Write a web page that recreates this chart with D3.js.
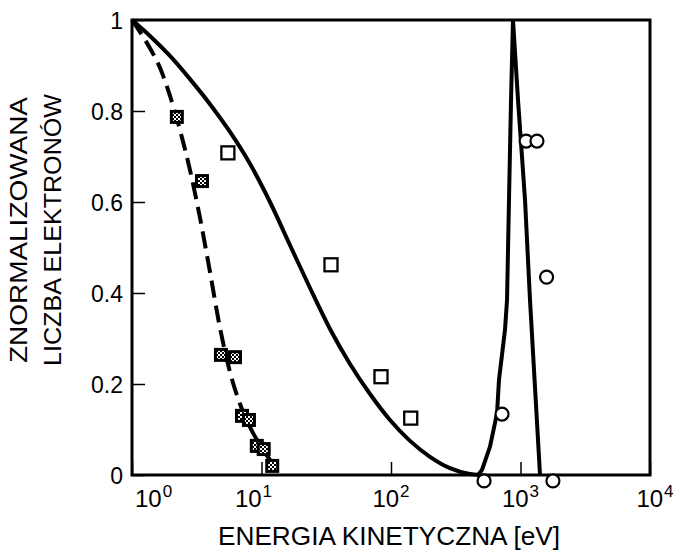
<!DOCTYPE html>
<html>
<head>
<meta charset="utf-8">
<script src="https://cdn.jsdelivr.net/npm/d3@7"></script>
<style>
  html, body { margin: 0; padding: 0; background: #fff; }
  svg { display: block; }
  text { font-family: "Liberation Sans", Arial, sans-serif; fill: #000; }
</style>
</head>
<body>
<script>
// ---- data (energy in eV, normalized electron count) ----
const xTickValues = [1, 10, 100, 1000, 10000];
const xTickExponents = ["0", "1", "2", "3", "4"];
const yTickValues = [0, 0.2, 0.4, 0.6, 0.8, 1];
const yTickLabels = ["0", "0.2", "0.4", "0.6", "0.8", "1"];

const solidCurveE = [1, 1.377, 1.966, 2.805, 4.003, 5.713, 8.15, 11.63, 16.61, 23.69, 33.81, 48.25, 68.84, 98.2, 140.2, 200.1, 285.5, 407.4, 486.8];
const solidCurveY = [1, 0.965, 0.921, 0.870, 0.815, 0.754, 0.684, 0.600, 0.505, 0.411, 0.321, 0.244, 0.178, 0.121, 0.075, 0.040, 0.015, 0.002, 0];

const peakCurveE = [470, 504, 581, 659, 682, 759, 787, 815, 845, 875, 957, 1084, 1184, 1415];
const peakCurveY = [0, 0.011, 0.062, 0.136, 0.209, 0.319, 0.385, 0.604, 0.824, 1, 0.824, 0.604, 0.385, 0];

const dashedCurveE = [1, 1.153, 1.377, 1.645, 1.966, 2.349, 2.805, 3.351, 4.003, 4.782, 5.713, 6.823, 8.151, 9.737, 11.63, 12.94];
const dashedCurveY = [1, 0.974, 0.938, 0.895, 0.833, 0.758, 0.670, 0.565, 0.446, 0.323, 0.226, 0.156, 0.105, 0.066, 0.033, 0.015];

const filledSquareE = [2.22, 3.47, 4.86, 6.24, 7.07, 8.0, 9.2, 10.4, 12.1];
const filledSquareY = [0.787, 0.646, 0.264, 0.259, 0.13, 0.121, 0.064, 0.057, 0.02];

const openSquareE = [5.5, 34.4, 83.7, 142];
const openSquareY = [0.708, 0.462, 0.216, 0.125];

const circleE = [523, 720, 1105, 1340, 1590, 1780];
const circleY = [-0.013, 0.134, 0.734, 0.734, 0.435, -0.013];

const xTitle = "ENERGIA KINETYCZNA [eV]";
const yTitleLines = ["ZNORMALIZOWANA", "LICZBA ELEKTRONÓW"];

// ---- drawing ----
const W = 675, H = 552;
const L = 132, R = 650, T = 20, B = 475;

const svg = d3.select("body").append("svg").attr("width", W).attr("height", H);

const defs = svg.append("defs");
const pat = defs.append("pattern").attr("id", "chk")
  .attr("width", 4).attr("height", 4).attr("patternUnits", "userSpaceOnUse");
pat.append("rect").attr("width", 4).attr("height", 4).attr("fill", "#000");
pat.append("rect").attr("x", 0).attr("y", 0).attr("width", 2).attr("height", 2).attr("fill", "#fff");
pat.append("rect").attr("x", 2).attr("y", 2).attr("width", 2).attr("height", 2).attr("fill", "#fff");

const x = d3.scaleLog().domain([1, 10000]).range([L, R]);
const y = d3.scaleLinear().domain([0, 1]).range([B, T]);

// axes (ticks inward)
const xAxis = d3.axisBottom(x).tickValues(xTickValues).tickSizeInner(-13).tickSizeOuter(0).tickFormat("");
const gx = svg.append("g").attr("transform", `translate(0,${B})`).call(xAxis);
gx.select(".domain").remove();
gx.selectAll(".tick line").attr("stroke", "#000").attr("stroke-width", 1.5);

const yAxis = d3.axisLeft(y).tickValues(yTickValues).tickSizeInner(-13).tickSizeOuter(0).tickPadding(9)
  .tickFormat((d, i) => yTickLabels[i]);
const gy = svg.append("g").attr("transform", `translate(${L},0)`).call(yAxis);
gy.select(".domain").remove();
gy.selectAll(".tick line").attr("stroke", "#000").attr("stroke-width", 1.5);
gy.selectAll(".tick text").attr("font-size", 23).attr("font-family", "Liberation Sans, Arial, sans-serif")
  .attr("fill", "#000").attr("dy", "0.36em");

// x tick labels with superscripts (small nudges as in the original print)
const labelNudge = [3, -8, 0, 0, 5];
xTickValues.forEach((v, i) => {
  const t = svg.append("text")
    .attr("x", x(v) + labelNudge[i])
    .attr("y", 507)
    .attr("text-anchor", i === 0 ? "start" : "middle")
    .attr("font-size", 24);
  t.append("tspan").text("10");
  t.append("tspan").attr("font-size", 17).attr("dy", -10).attr("dx", 1).text(xTickExponents[i]);
});

// frame
svg.append("rect").attr("x", L).attr("y", T).attr("width", R - L).attr("height", B - T)
  .attr("fill", "none").attr("stroke", "#000").attr("stroke-width", 3);

// curves
const zip = (a, b) => a.map((v, i) => [v, b[i]]);
const smooth = d3.line().x(d => x(d[0])).y(d => y(d[1])).curve(d3.curveMonotoneX);
const straight = d3.line().x(d => x(d[0])).y(d => y(d[1])).curve(d3.curveLinear);

svg.append("path").datum(zip(solidCurveE, solidCurveY))
  .attr("d", smooth)
  .attr("fill", "none").attr("stroke", "#000").attr("stroke-width", 4).attr("stroke-linejoin", "round");

svg.append("path").datum(zip(peakCurveE, peakCurveY))
  .attr("d", straight)
  .attr("fill", "none").attr("stroke", "#000").attr("stroke-width", 4).attr("stroke-linejoin", "miter");

svg.append("path").datum(zip(dashedCurveE, dashedCurveY))
  .attr("d", smooth)
  .attr("fill", "none").attr("stroke", "#000").attr("stroke-width", 4)
  .attr("stroke-dasharray", "17,8");

// markers
const fs = 14;
const gFilled = svg.append("g");
zip(filledSquareE, filledSquareY).forEach(d => {
  gFilled.append("rect").attr("x", x(d[0]) - fs / 2).attr("y", y(d[1]) - fs / 2)
    .attr("width", fs).attr("height", fs).attr("fill", "#000");
  gFilled.append("rect").attr("x", x(d[0]) - 4).attr("y", y(d[1]) - 4)
    .attr("width", 8).attr("height", 8).attr("fill", "url(#chk)");
});

const os = 13;
svg.append("g").selectAll("rect").data(zip(openSquareE, openSquareY)).join("rect")
  .attr("x", d => x(d[0]) - os / 2).attr("y", d => y(d[1]) - os / 2)
  .attr("width", os).attr("height", os)
  .attr("fill", "#fff").attr("stroke", "#000").attr("stroke-width", 2.3);

svg.append("g").selectAll("circle").data(zip(circleE, circleY)).join("circle")
  .attr("cx", d => x(d[0])).attr("cy", d => y(d[1])).attr("r", 6.5)
  .attr("fill", "#fff").attr("stroke", "#000").attr("stroke-width", 2.2);

// titles
svg.append("text").attr("x", 389).attr("y", 545).attr("text-anchor", "middle")
  .attr("font-size", 26).attr("textLength", 342).attr("lengthAdjust", "spacingAndGlyphs")
  .text(xTitle);

svg.append("text").attr("transform", "translate(27,230) rotate(-90)").attr("text-anchor", "middle")
  .attr("font-size", 24).attr("textLength", 266).attr("lengthAdjust", "spacingAndGlyphs")
  .text(yTitleLines[0]);
svg.append("text").attr("transform", "translate(61,230) rotate(-90)").attr("text-anchor", "middle")
  .attr("font-size", 24).attr("textLength", 272).attr("lengthAdjust", "spacingAndGlyphs")
  .text(yTitleLines[1]);
</script>
</body>
</html>
